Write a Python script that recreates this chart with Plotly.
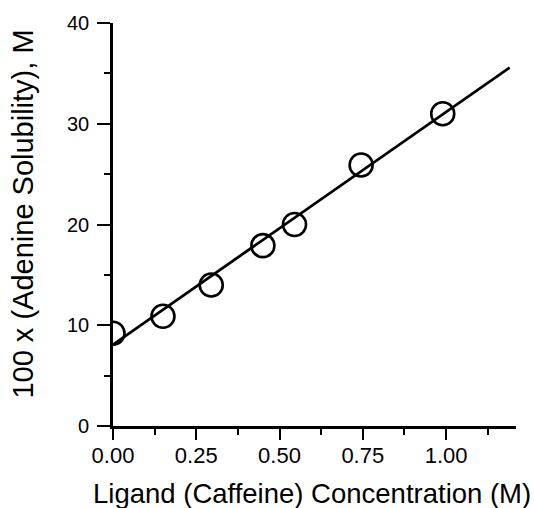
import plotly.graph_objects as go

# Data
caffeine_conc = [0.0, 0.15, 0.295, 0.45, 0.545, 0.745, 0.99]
adenine_sol_x100 = [9.2, 10.9, 14.0, 17.9, 20.0, 25.9, 31.0]

fit_x = [0.0, 1.191]
fit_y = [8.08, 35.57]

x_tick_vals = [0.0, 0.25, 0.5, 0.75, 1.0]
x_tick_text = ["0.00", "0.25", "0.50", "0.75", "1.00"]
y_tick_vals = [0, 10, 20, 30, 40]
y_tick_text = ["0", "10", "20", "30", "40"]

x_title = "Ligand (Caffeine) Concentration (M)"
y_title = "100 x (Adenine Solubility), M"

FONT = "Liberation Sans, Arial, Helvetica, sans-serif"

fig = go.Figure()
fig.add_trace(go.Scatter(
    x=fit_x, y=fit_y, mode="lines",
    line=dict(color="black", width=2.8),
    showlegend=False, hoverinfo="skip",
))
fig.add_trace(go.Scatter(
    x=caffeine_conc, y=adenine_sol_x100, mode="markers",
    marker=dict(symbol="circle-open", size=23, color="black",
                line=dict(color="black", width=2.6)),
    cliponaxis=True, showlegend=False,
))

L, R, T, B = 113, 18, 20, 82
W, H = 534, 508

fig.update_layout(
    width=W, height=H, autosize=False,
    margin=dict(l=L, r=R, t=T, b=B, pad=0),
    paper_bgcolor="white", plot_bgcolor="white",
    font=dict(family=FONT, color="black"),
    xaxis=dict(
        range=[0, 1.21], showgrid=False, zeroline=False,
        showline=True, linecolor="black", linewidth=2.6,
        ticks="outside", ticklen=11, tickwidth=2.4, tickcolor="black",
        tickvals=x_tick_vals, ticktext=x_tick_text,
        tickfont=dict(size=22, family=FONT),
        ticklabelstandoff=-3,
        minor=dict(ticks="outside", ticklen=6, tickwidth=2.4, tickcolor="black",
                   tick0=0.125, dtick=0.25, showgrid=False),
        fixedrange=True,
    ),
    yaxis=dict(
        range=[0, 40], showgrid=False, zeroline=False,
        showline=True, linecolor="black", linewidth=2.6,
        ticks="outside", ticklen=13, tickwidth=2.4, tickcolor="black",
        tickvals=y_tick_vals, ticktext=y_tick_text,
        tickfont=dict(size=20, family=FONT),
        ticklabelstandoff=4,
        minor=dict(ticks="outside", ticklen=6, tickwidth=2.4, tickcolor="black",
                   tick0=5, dtick=10, showgrid=False),
        fixedrange=True,
    ),
)

pw = W - L - R
ph = H - T - B

fig.add_annotation(
    text=x_title, xref="paper", yref="paper",
    x=(91 - L) / pw, y=(H - B - 494) / ph,
    xanchor="left", yanchor="middle", showarrow=False,
    font=dict(size=27.5, family=FONT, color="black"),
)
fig.add_annotation(
    text=y_title, xref="paper", yref="paper",
    x=(23 - L) / pw, y=(H - B - 213) / ph,
    xanchor="center", yanchor="middle", textangle=-90, showarrow=False,
    font=dict(size=29, family=FONT, color="black"),
)

fig.write_html("out.html")
